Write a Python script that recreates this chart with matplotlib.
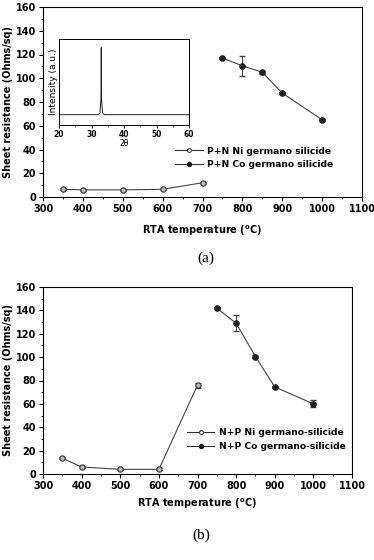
import matplotlib
matplotlib.use("Agg")
import matplotlib.pyplot as plt
from matplotlib.lines import Line2D
from matplotlib.ticker import MultipleLocator

# panel (a) data
a_ni_t = [350, 400, 500, 600, 700]
a_ni_r = [6.5, 6.0, 6.0, 6.5, 12.0]
a_ni_e = [1.0, 1.0, 1.0, 1.0, 1.0]
a_co_t = [750, 800, 850, 900, 1000]
a_co_r = [117, 110.5, 105, 87.5, 65]
a_co_e = [1.0, 8.5, 1.0, 1.0, 1.0]

# panel (b) data
b_ni_t = [350, 400, 500, 600, 700]
b_ni_r = [13.5, 6.0, 4.0, 4.0, 76.0]
b_ni_e = [1.0, 1.0, 1.0, 1.0, 2.0]
b_co_t = [750, 800, 850, 900, 1000]
b_co_r = [142, 129, 100.5, 74.5, 60]
b_co_e = [1.0, 7.0, 1.0, 1.0, 3.0]

# inset XRD trace
xrd_2theta = [20, 32.0, 32.6, 32.9, 33.0, 33.1, 33.4, 34.0, 60]
xrd_int = [0.12, 0.12, 0.14, 0.3, 0.9, 0.3, 0.14, 0.12, 0.12]

plt.rcParams['font.family'] = ['DejaVu Sans']
plt.rcParams['font.weight'] = 'bold'
plt.rcParams['font.size'] = 7

fig = plt.figure(figsize=(3.74, 5.6), dpi=100)
W, H = 374.0, 560.0


def panel(rect, ni, co, labels, caption, cap_y, anchor, xpad):
    ax = fig.add_axes([rect[0] / W, 1 - rect[3] / H,
                       (rect[2] - rect[0]) / W, (rect[3] - rect[1]) / H])
    ax.errorbar(ni[0], ni[1], yerr=ni[2], color='#444444', lw=0.8,
                marker='o', ms=3.8, mfc='#bbbbbb', mec='#333333', mew=0.8,
                capsize=2.5, elinewidth=0.8)
    ax.errorbar(co[0], co[1], yerr=co[2], color='#444444', lw=0.8,
                marker='o', ms=3.8, mfc='#222222', mec='#222222',
                capsize=2.5, elinewidth=0.8)
    ax.set_xlim(300, 1100)
    ax.set_ylim(0, 160)
    ax.xaxis.set_major_locator(MultipleLocator(100))
    ax.xaxis.set_minor_locator(MultipleLocator(50))
    ax.yaxis.set_major_locator(MultipleLocator(20))
    ax.yaxis.set_minor_locator(MultipleLocator(10))
    ax.tick_params(which='major', length=3, width=0.8, top=False, right=False,
                   pad=2)
    ax.tick_params(which='minor', length=1.5, width=0.6, top=False, right=False)
    for s in ax.spines.values():
        s.set_linewidth(0.8)
    ax.set_xlabel('RTA temperature ($^{\\mathrm{o}}$C)', fontweight='bold',
                  labelpad=xpad)
    ax.set_ylabel('Sheet resistance (Ohms/sq)', fontweight='bold', labelpad=2)
    handles = [
        Line2D([], [], color='#333333', lw=0.8, marker='o', ms=2.8,
               mfc='white', mec='#333333', mew=0.7),
        Line2D([], [], color='#333333', lw=0.8, marker='o', ms=2.8,
               mfc='#111111', mec='#111111'),
    ]
    ax.legend(handles, labels, loc='upper left', bbox_to_anchor=anchor,
              frameon=False, fontsize=6.6, handlelength=3.0, handletextpad=0.5,
              labelspacing=0.5, borderpad=0, borderaxespad=0)
    fig.text((rect[0] + rect[2]) / 2 / W + 0.01, 1 - cap_y / H, caption,
             ha='center', va='center', fontsize=11, fontweight='normal',
             family=['Liberation Serif', 'DejaVu Serif'])
    return ax


ax_a = panel((43, 7, 362, 197), (a_ni_t, a_ni_r, a_ni_e),
             (a_co_t, a_co_r, a_co_e),
             ['P+N Ni germano silicide', 'P+N Co germano silicide'], '(a)', 258,
             (0.414, 0.265), 7)

ax_b = panel((43, 287, 352, 474), (b_ni_t, b_ni_r, b_ni_e),
             (b_co_t, b_co_r, b_co_e),
             ['N+P Ni germano-silicide', 'N+P Co germano-silicide'], '(b)', 535,
             (0.466, 0.245), 4)

# inset in panel (a)
ins = fig.add_axes([59 / W, 1 - 125 / H, 130 / W, 86 / H])
ins.plot(xrd_2theta, xrd_int, color='#222222', lw=0.7)
ins.set_xlim(20, 60)
ins.set_ylim(0, 1)
ins.set_yticks([])
ins.xaxis.set_major_locator(MultipleLocator(10))
ins.xaxis.set_minor_locator(MultipleLocator(5))
ins.tick_params(which='major', length=2.5, width=0.6, labelsize=5.5, pad=1)
ins.tick_params(which='minor', length=1.2, width=0.5)
for s in ins.spines.values():
    s.set_linewidth(0.7)
ins.set_xlabel('2θ', fontsize=5.5, labelpad=0)
ins.set_ylabel('Intensity (a.u.)', fontsize=6.5, labelpad=1)

fig.savefig('out.png', dpi=100)
